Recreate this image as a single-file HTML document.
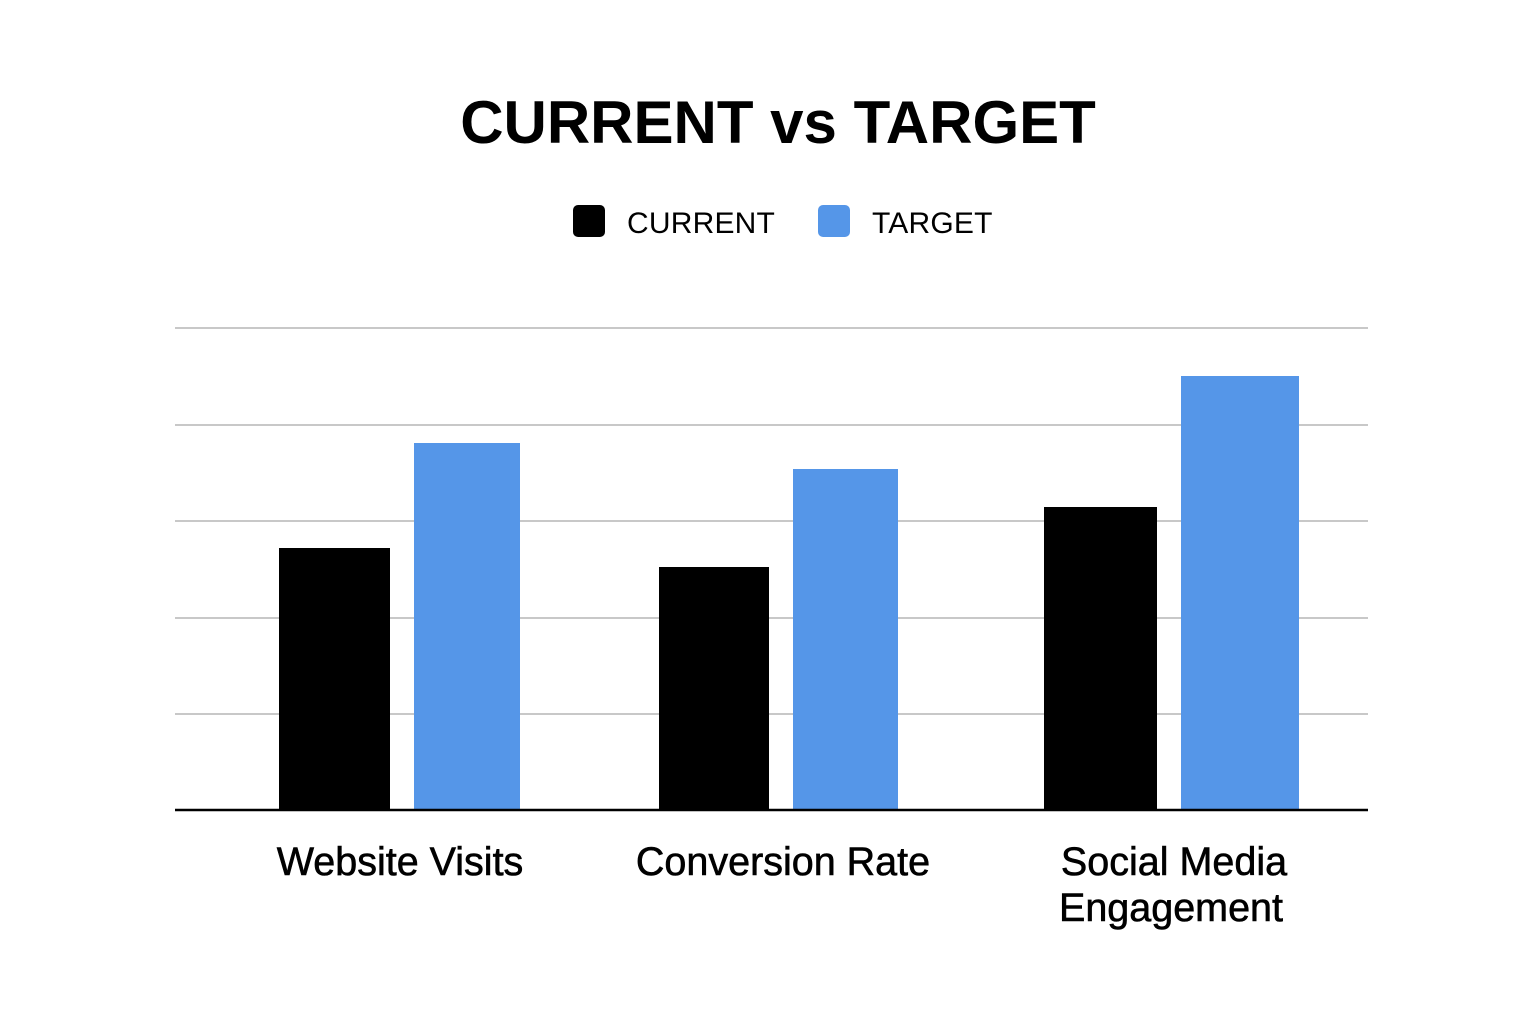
<!DOCTYPE html>
<html><head><meta charset="utf-8"><style>
body{margin:0;background:#fff;}
</style></head><body>
<svg width="1536" height="1024" xmlns="http://www.w3.org/2000/svg" style="display:block">
<rect width="1536" height="1024" fill="#fff"/>
<text x="778" y="143" text-anchor="middle" font-family="Liberation Sans, sans-serif" font-weight="bold" font-size="60" fill="#000">CURRENT vs TARGET</text>
<rect x="573" y="205" width="32" height="32" rx="5" fill="#000"/>
<text x="627" y="233" font-family="Liberation Sans, sans-serif" font-size="30" fill="#000" letter-spacing="0.2">CURRENT</text>
<rect x="818" y="205" width="32" height="32" rx="5" fill="#5596e8"/>
<text x="872" y="233" font-family="Liberation Sans, sans-serif" font-size="30" fill="#000" letter-spacing="0.2">TARGET</text>
<g stroke="#c8c8c8" stroke-width="2">
<line x1="175" y1="328" x2="1368" y2="328"/>
<line x1="175" y1="425" x2="1368" y2="425"/>
<line x1="175" y1="521" x2="1368" y2="521"/>
<line x1="175" y1="618" x2="1368" y2="618"/>
<line x1="175" y1="714" x2="1368" y2="714"/>
</g>
<rect x="279" y="548" width="111" height="262" fill="#000"/>
<rect x="414" y="443" width="106" height="367" fill="#5596e8"/>
<rect x="659" y="567" width="110" height="243" fill="#000"/>
<rect x="793" y="469" width="105" height="341" fill="#5596e8"/>
<rect x="1044" y="507" width="113" height="303" fill="#000"/>
<rect x="1181" y="376" width="118" height="434" fill="#5596e8"/>
<line x1="175" y1="810" x2="1368" y2="810" stroke="#000" stroke-width="2.5"/>
<g font-family="Liberation Sans, sans-serif" font-size="39.5" fill="#000" stroke="#000" stroke-width="0.6" text-anchor="middle">
<text x="400" y="875">Website Visits</text>
<text x="783" y="875">Conversion Rate</text>
<text x="1174" y="875">Social Media</text>
<text x="1171" y="921">Engagement</text>
</g>
</svg>
</body></html>
